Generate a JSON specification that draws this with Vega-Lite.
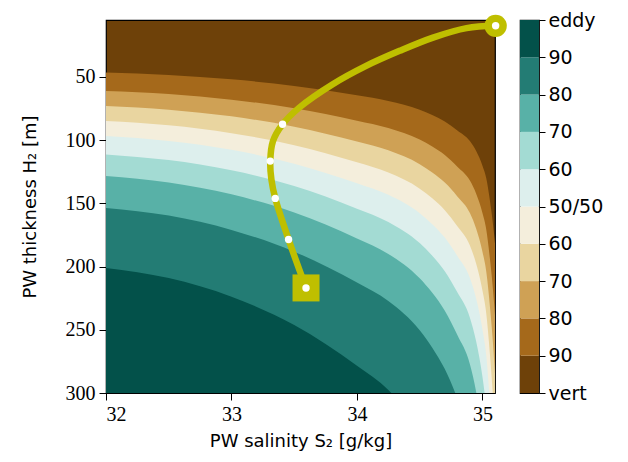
{
  "$schema": "https://vega.github.io/schema/vega-lite/v6.json",
  "background": "white",
  "padding": {"left": 20, "top": 10, "right": 5, "bottom": 5},
  "spacing": 9,
  "config": {
    "axis": {"domainColor": "black", "tickColor": "black", "labelColor": "black", "titleColor": "black", "grid": false, "titleFontWeight": "normal"},
    "legend": {"disable": true}
  },
  "datasets": {
    "bounds": [
      {"band": 1, "S": 32, "H": 46.6}, {"band": 1, "S": 32.5, "H": 48.5}, {"band": 1, "S": 33, "H": 51.9}, {"band": 1, "S": 33.5, "H": 57.1}, {"band": 1, "S": 34, "H": 64.5}, {"band": 1, "S": 34.25, "H": 69.0}, {"band": 1, "S": 34.5, "H": 76.0}, {"band": 1, "S": 34.6, "H": 80.2}, {"band": 1, "S": 34.7, "H": 85.3}, {"band": 1, "S": 34.8, "H": 92.3}, {"band": 1, "S": 34.9, "H": 100.7}, {"band": 1, "S": 34.95, "H": 108.6}, {"band": 1, "S": 35.0, "H": 120.2}, {"band": 1, "S": 35.03, "H": 130.0}, {"band": 1, "S": 35.06, "H": 148.2}, {"band": 1, "S": 35.08, "H": 163.1}, {"band": 1, "S": 35.1, "H": 181.7},
      {"band": 2, "S": 32, "H": 61.1}, {"band": 2, "S": 32.5, "H": 63.5}, {"band": 2, "S": 33, "H": 68.0}, {"band": 2, "S": 33.5, "H": 74.8}, {"band": 2, "S": 34, "H": 84.6}, {"band": 2, "S": 34.25, "H": 90.4}, {"band": 2, "S": 34.5, "H": 99.6}, {"band": 2, "S": 34.6, "H": 105.1}, {"band": 2, "S": 34.7, "H": 111.8}, {"band": 2, "S": 34.8, "H": 121.0}, {"band": 2, "S": 34.9, "H": 132.0}, {"band": 2, "S": 34.95, "H": 142.4}, {"band": 2, "S": 35.0, "H": 157.6}, {"band": 2, "S": 35.03, "H": 170.5}, {"band": 2, "S": 35.06, "H": 194.3}, {"band": 2, "S": 35.08, "H": 213.9}, {"band": 2, "S": 35.1, "H": 238.3},
      {"band": 3, "S": 32, "H": 73.0}, {"band": 3, "S": 32.5, "H": 75.9}, {"band": 3, "S": 33, "H": 81.2}, {"band": 3, "S": 33.5, "H": 89.4}, {"band": 3, "S": 34, "H": 101.1}, {"band": 3, "S": 34.25, "H": 108.0}, {"band": 3, "S": 34.5, "H": 119.0}, {"band": 3, "S": 34.6, "H": 125.6}, {"band": 3, "S": 34.7, "H": 133.6}, {"band": 3, "S": 34.8, "H": 144.5}, {"band": 3, "S": 34.9, "H": 157.7}, {"band": 3, "S": 34.95, "H": 170.1}, {"band": 3, "S": 35.0, "H": 188.3}, {"band": 3, "S": 35.03, "H": 203.7}, {"band": 3, "S": 35.06, "H": 232.1}, {"band": 3, "S": 35.08, "H": 255.5}, {"band": 3, "S": 35.1, "H": 284.7},
      {"band": 4, "S": 32, "H": 84.9}, {"band": 4, "S": 32.5, "H": 88.3}, {"band": 4, "S": 33, "H": 94.5}, {"band": 4, "S": 33.5, "H": 104.0}, {"band": 4, "S": 34, "H": 117.6}, {"band": 4, "S": 34.25, "H": 125.7}, {"band": 4, "S": 34.5, "H": 138.4}, {"band": 4, "S": 34.6, "H": 146.0}, {"band": 4, "S": 34.7, "H": 155.4}, {"band": 4, "S": 34.8, "H": 168.1}, {"band": 4, "S": 34.9, "H": 183.4}, {"band": 4, "S": 34.95, "H": 197.8}, {"band": 4, "S": 35.0, "H": 219.0}, {"band": 4, "S": 35.03, "H": 236.9}, {"band": 4, "S": 35.06, "H": 270.0}, {"band": 4, "S": 35.08, "H": 297.2}, {"band": 4, "S": 35.1, "H": 331.1},
      {"band": 5, "S": 32, "H": 96.8}, {"band": 5, "S": 32.5, "H": 100.7}, {"band": 5, "S": 33, "H": 107.7}, {"band": 5, "S": 33.5, "H": 118.6}, {"band": 5, "S": 34, "H": 134.1}, {"band": 5, "S": 34.25, "H": 143.3}, {"band": 5, "S": 34.5, "H": 157.8}, {"band": 5, "S": 34.6, "H": 166.5}, {"band": 5, "S": 34.7, "H": 177.1}, {"band": 5, "S": 34.8, "H": 191.7}, {"band": 5, "S": 34.9, "H": 209.1}, {"band": 5, "S": 34.95, "H": 225.5}, {"band": 5, "S": 35.0, "H": 249.7}, {"band": 5, "S": 35.03, "H": 270.1}, {"band": 5, "S": 35.06, "H": 307.8},
      {"band": 6, "S": 32, "H": 111.3}, {"band": 6, "S": 32.5, "H": 115.8}, {"band": 6, "S": 33, "H": 123.9}, {"band": 6, "S": 33.5, "H": 136.3}, {"band": 6, "S": 34, "H": 154.2}, {"band": 6, "S": 34.25, "H": 164.7}, {"band": 6, "S": 34.5, "H": 181.4}, {"band": 6, "S": 34.6, "H": 191.4}, {"band": 6, "S": 34.7, "H": 203.7}, {"band": 6, "S": 34.8, "H": 220.4}, {"band": 6, "S": 34.9, "H": 240.4}, {"band": 6, "S": 34.95, "H": 259.3}, {"band": 6, "S": 35.0, "H": 287.2}, {"band": 6, "S": 35.03, "H": 310.5},
      {"band": 7, "S": 32, "H": 128.4}, {"band": 7, "S": 32.5, "H": 133.5}, {"band": 7, "S": 33, "H": 142.9}, {"band": 7, "S": 33.5, "H": 157.3}, {"band": 7, "S": 34, "H": 177.8}, {"band": 7, "S": 34.25, "H": 190.0}, {"band": 7, "S": 34.5, "H": 209.3}, {"band": 7, "S": 34.6, "H": 220.8}, {"band": 7, "S": 34.7, "H": 235.0}, {"band": 7, "S": 34.8, "H": 254.2}, {"band": 7, "S": 34.9, "H": 277.3}, {"band": 7, "S": 34.95, "H": 299.2}, {"band": 7, "S": 35.0, "H": 331.3},
      {"band": 8, "S": 32, "H": 153.6}, {"band": 8, "S": 32.5, "H": 159.7}, {"band": 8, "S": 33, "H": 171.0}, {"band": 8, "S": 33.5, "H": 188.2}, {"band": 8, "S": 34, "H": 212.7}, {"band": 8, "S": 34.25, "H": 227.3}, {"band": 8, "S": 34.5, "H": 250.4}, {"band": 8, "S": 34.6, "H": 264.2}, {"band": 8, "S": 34.7, "H": 281.1}, {"band": 8, "S": 34.8, "H": 304.1},
      {"band": 9, "S": 32, "H": 201.1}, {"band": 9, "S": 32.5, "H": 209.1}, {"band": 9, "S": 33, "H": 223.8}, {"band": 9, "S": 33.5, "H": 246.3}, {"band": 9, "S": 34, "H": 278.5}, {"band": 9, "S": 34.25, "H": 297.6}, {"band": 9, "S": 34.5, "H": 327.8}
    ],
    "path": [
      {"seq": 1, "S": 33.594, "H": 216.9}, {"seq": 2, "S": 33.455, "H": 178.6}, {"seq": 3, "S": 33.349, "H": 146.1}, {"seq": 4, "S": 33.318, "H": 131}, {"seq": 5, "S": 33.309, "H": 116.6}, {"seq": 6, "S": 33.33, "H": 101}, {"seq": 7, "S": 33.407, "H": 87.5}, {"seq": 8, "S": 33.54, "H": 74.3}, {"seq": 9, "S": 33.807, "H": 55.8}, {"seq": 10, "S": 34.073, "H": 41.3}, {"seq": 11, "S": 34.34, "H": 29.4}, {"seq": 12, "S": 34.606, "H": 18.9}, {"seq": 13, "S": 34.873, "H": 11.4}, {"seq": 14, "S": 35.105, "H": 9.6}
    ],
    "dots": [
      {"S": 33.594, "H": 216.9}, {"S": 33.455, "H": 178.6}, {"S": 33.349, "H": 146.1}, {"S": 33.309, "H": 116.6}, {"S": 33.407, "H": 87.5}, {"S": 35.105, "H": 9.6}
    ],
    "start": [{"S": 33.594, "H": 216.9}],
    "end": [{"S": 35.105, "H": 9.6}],
    "levels": [
      {"band": 0, "lo": 0, "hi": 1}, {"band": 1, "lo": 1, "hi": 2}, {"band": 2, "lo": 2, "hi": 3}, {"band": 3, "lo": 3, "hi": 4}, {"band": 4, "lo": 4, "hi": 5},
      {"band": 5, "lo": 5, "hi": 6}, {"band": 6, "lo": 6, "hi": 7}, {"band": 7, "lo": 7, "hi": 8}, {"band": 8, "lo": 8, "hi": 9}, {"band": 9, "lo": 9, "hi": 10}
    ]
  },
  "hconcat": [
    {
      "width": 389,
      "height": 373,
      "view": {"stroke": "black", "strokeWidth": 1.2, "fill": "#6e4109"},
      "layer": [
        {
          "data": {"name": "bounds"},
          "mark": {"type": "area", "interpolate": "monotone", "clip": true},
          "encoding": {
            "x": {"field": "S", "type": "quantitative", "scale": {"domain": [32, 35.1], "nice": false, "zero": false},
              "axis": {"values": [32, 33, 34, 35], "format": "d", "title": "PW salinity S₂ [g/kg]", "labelFont": "Liberation Serif", "labelFontSize": 20, "titleFont": "DejaVu Sans", "titleFontSize": 18, "tickSize": 7, "labelPadding": 4, "titlePadding": 8, "domain": false}},
            "y": {"field": "H", "type": "quantitative", "stack": null, "scale": {"domain": [5, 300], "reverse": true, "nice": false, "zero": false},
              "axis": {"values": [50, 100, 150, 200, 250, 300], "title": "PW thickness H₂ [m]", "labelFont": "Liberation Serif", "labelFontSize": 20, "titleFont": "DejaVu Sans", "titleFontSize": 18, "tickSize": 7, "labelPadding": 4, "titlePadding": 26, "domain": false}},
            "y2": {"datum": 300},
            "color": {"field": "band", "type": "ordinal", "scale": {"domain": [0, 1, 2, 3, 4, 5, 6, 7, 8, 9], "range": ["#6e4109", "#a5691b", "#cfa155", "#e9d5a0", "#f4eedc", "#ddefed", "#a3dbd3", "#58b1a7", "#237c74", "#03514a"]}, "legend": null}
          }
        },
        {
          "data": {"name": "path"},
          "mark": {"type": "line", "color": "#bfbf00", "strokeWidth": 6.5, "interpolate": "catmull-rom", "clip": false, "strokeCap": "round"},
          "encoding": {
            "x": {"field": "S", "type": "quantitative"},
            "y": {"field": "H", "type": "quantitative"},
            "order": {"field": "seq", "type": "quantitative"}
          }
        },
        {
          "data": {"name": "start"},
          "mark": {"type": "point", "shape": "square", "filled": true, "color": "#bfbf00", "opacity": 1, "size": 729},
          "encoding": {"x": {"field": "S", "type": "quantitative"}, "y": {"field": "H", "type": "quantitative"}}
        },
        {
          "data": {"name": "end"},
          "mark": {"type": "point", "shape": "circle", "filled": true, "color": "#bfbf00", "opacity": 1, "size": 500},
          "encoding": {"x": {"field": "S", "type": "quantitative"}, "y": {"field": "H", "type": "quantitative"}}
        },
        {
          "data": {"name": "dots"},
          "mark": {"type": "point", "shape": "circle", "filled": true, "color": "white", "opacity": 1, "size": 55},
          "encoding": {"x": {"field": "S", "type": "quantitative"}, "y": {"field": "H", "type": "quantitative"}}
        }
      ]
    },
    {
      "width": 19,
      "height": 373,
      "view": {"stroke": "black", "strokeWidth": 1.2},
      "data": {"name": "levels"},
      "mark": {"type": "rect"},
      "encoding": {
        "y": {"field": "lo", "type": "quantitative", "scale": {"domain": [0, 10], "nice": false, "zero": false},
          "axis": {"orient": "right", "values": [0, 1, 2, 3, 4, 5, 6, 7, 8, 9, 10], "labelExpr": "['vert','90','80','70','60','50/50','60','70','80','90','eddy'][datum.value]", "title": null, "labelFont": "DejaVu Sans", "labelFontSize": 19, "tickSize": 6, "labelPadding": 3, "domain": false}},
        "y2": {"field": "hi"},
        "color": {"field": "band", "type": "ordinal", "scale": {"domain": [0, 1, 2, 3, 4, 5, 6, 7, 8, 9], "range": ["#6e4109", "#a5691b", "#cfa155", "#e9d5a0", "#f4eedc", "#ddefed", "#a3dbd3", "#58b1a7", "#237c74", "#03514a"]}, "legend": null}
      }
    }
  ]
}
